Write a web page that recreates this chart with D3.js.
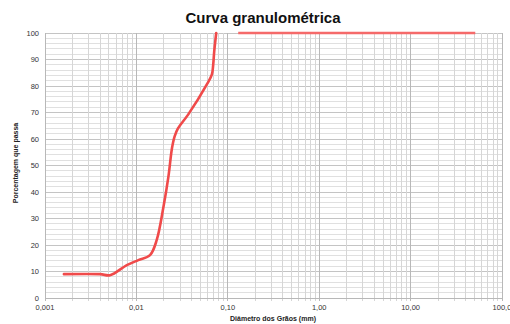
<!DOCTYPE html>
<html><head><meta charset="utf-8">
<script src="https://cdn.jsdelivr.net/npm/d3@7"></script>
<style>body{margin:0;background:#fff}svg{display:block}</style>
</head><body>
<svg id="c" width="510" height="324"></svg>
<script>
const title = "Curva granulométrica";
const xTitle = "Diâmetro dos Grãos (mm)";
const yTitle = "Porcentagem que passa";
const xTickValues = [0.001, 0.01, 0.1, 1, 10, 100];
const xTickLabels = ["0,001", "0,01", "0,10", "1,00", "10,00", "100,0"];
const yTickValues = [0,10,20,30,40,50,60,70,80,90,100];
// curve (fine part)
const diam1 = [0.00161,0.0040,0.00515,0.00785,0.0105,0.0141,0.0167,0.0198,0.0224,0.0245,0.0262,0.0285,0.0368,0.059,0.067,0.0692,0.071,0.0747];
const pass1 = [9.0,9.0,8.6,12.4,14.3,16.2,21.9,34.5,45.8,56.5,61.0,64.0,69.2,80.6,84.4,88,93,100];
// coarse part
const diam2 = [0.13, 51];
const pass2 = [100, 100];

const svg = d3.select("#c");
const m = {l:45, r:8, t:33, b:26};
const W = 510, H = 324;
const x = d3.scaleLog().domain([0.001,100]).range([m.l, W-m.r]);
const y = d3.scaleLinear().domain([0,100]).range([H-m.b, m.t]);

const g = svg.append("g");
const hMinor = d3.range(0,101,2);
g.selectAll("line.hm").data(hMinor).enter().append("line")
  .attr("x1", m.l).attr("x2", W-m.r).attr("y1", d=>y(d)).attr("y2", d=>y(d))
  .attr("stroke", d=> d%10===0 ? "#c4c4c4" : "#e0e0e0").attr("stroke-width",1).attr("shape-rendering","crispEdges");
const vLines = [];
for (let e=-3; e<2; e++) for (let k=1;k<10;k++) vLines.push({v:k*Math.pow(10,e), major:k===1});
vLines.push({v:100, major:true});
g.selectAll("line.v").data(vLines).enter().append("line")
  .attr("x1", d=>x(d.v)).attr("x2", d=>x(d.v)).attr("y1", m.t).attr("y2", H-m.b+3)
  .attr("stroke", d=> d.major ? "#b8b8b8" : "#d6d6d6").attr("stroke-width",1).attr("shape-rendering","crispEdges");
g.append("line").attr("x1",m.l).attr("x2",W-m.r).attr("y1",y(0)).attr("y2",y(0)).attr("stroke","#b8b8b8").attr("shape-rendering","crispEdges");
g.append("line").attr("x1",m.l).attr("x2",m.l).attr("y1",y(0)).attr("y2",y(100)).attr("stroke","#b8b8b8").attr("shape-rendering","crispEdges");

svg.selectAll("text.yt").data(yTickValues).enter().append("text")
  .attr("x", m.l-6).attr("y", d=>y(d)+2.5).attr("text-anchor","end")
  .attr("font-family","Liberation Sans, Arial, sans-serif").attr("font-size",7.5).attr("fill","#333")
  .text(d=>d);
svg.selectAll("text.xt").data(xTickValues).enter().append("text")
  .attr("x", d=>x(d)).attr("y", H-m.b+12).attr("text-anchor","middle")
  .attr("font-family","Liberation Sans, Arial, sans-serif").attr("font-size",7.5).attr("fill","#333")
  .text((d,i)=>xTickLabels[i]);

svg.append("text").attr("x",263).attr("y",23).attr("text-anchor","middle")
  .attr("font-family","Liberation Sans, Arial, sans-serif").attr("font-weight","bold").attr("font-size",15).attr("fill","#111")
  .text(title);
svg.append("text").attr("x",273).attr("y",321).attr("text-anchor","middle")
  .attr("font-family","Liberation Sans, Arial, sans-serif").attr("font-weight","bold").attr("font-size",7).attr("fill","#222")
  .text(xTitle);
svg.append("text").attr("transform","translate(18,163) rotate(-90)").attr("text-anchor","middle")
  .attr("font-family","Liberation Sans, Arial, sans-serif").attr("font-weight","bold").attr("font-size",7).attr("fill","#222")
  .text(yTitle);

const line2 = d3.line().x(d=>x(d[0])).y(d=>y(d[1]));
svg.append("path").datum(diam1.map((d,i)=>[d,pass1[i]]))
  .attr("d", d3.line().x(d=>x(d[0])).y(d=>y(d[1])).curve(d3.curveCatmullRom.alpha(0.5)))
  .attr("fill","none").attr("stroke","#f04a4a").attr("stroke-width",2.6).attr("stroke-linejoin","round").attr("stroke-linecap","round");
svg.append("path").datum(diam2.map((d,i)=>[d,pass2[i]]))
  .attr("d", line2)
  .attr("fill","none").attr("stroke","#f56a6a").attr("stroke-width",2.6);
</script>
</body></html>
